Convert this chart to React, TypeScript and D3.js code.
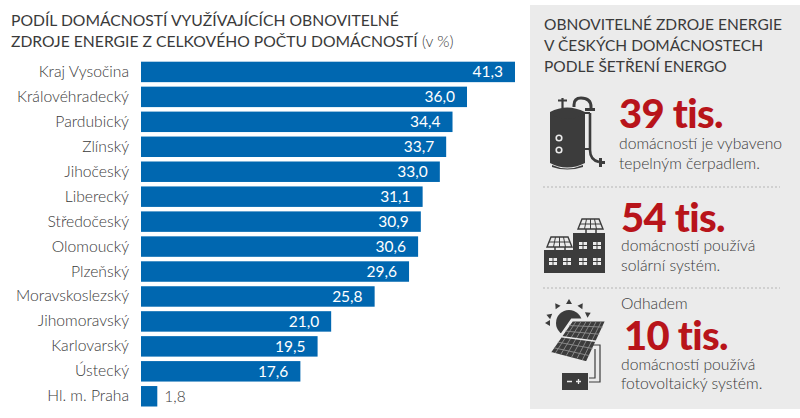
import React from "react";
import * as d3 from "d3";

const regions = ["Kraj Vysočina","Královéhradecký","Pardubický","Zlínský","Jihočeský","Liberecký","Středočeský","Olomoucký","Plzeňský","Moravskoslezský","Jihomoravský","Karlovarský","Ústecký","Hl. m. Praha"];
const shares = [41.3,36.0,34.4,33.7,33.0,31.1,30.9,30.6,29.6,25.8,21.0,19.5,17.6,1.8];
const valueLabels = ["41,3","36,0","34,4","33,7","33,0","31,1","30,9","30,6","29,6","25,8","21,0","19,5","17,6","1,8"];
const titleLines = ["PODÍL DOMÁCNOSTÍ VYUŽÍVAJÍCÍCH OBNOVITELNÉ","ZDROJE ENERGIE Z CELKOVÉHO POČTU DOMÁCNOSTÍ"];
const panelTitle = ["OBNOVITELNÉ ZDROJE ENERGIE","V ČESKÝCH DOMÁCNOSTECH","PODLE ŠETŘENÍ ENERGO"];

const FONT = "Lato, 'Open Sans', sans-serif";
const DARK = "#3a3a3a";
const BLUE = "#0067b0";
const RED = "#b8141a";
const ICON = "#3c3c3c";
const BG = "#ebebeb";

const x = d3.scaleLinear().domain([0, 41.3]).range([141, 515]);
const y = d3.scaleBand<string>().domain(regions).range([59.45, 408.75]).paddingInner(0.18).paddingOuter(0.09);

function Boiler() {
  return (
    <g>
      <path d="M550 112 Q567 103 585 112 L585 120 H550 Z" fill={ICON} />
      <path d="M550 114 Q567 124 585 114 L585 163 Q567 172 550 163 Z" fill={ICON} />
      <path d="M552 165 Q567 172 583 165 L583 167 Q567 172 552 167 Z" fill={ICON} />
      <circle cx={559} cy={138} r={2.8} fill="none" stroke={BG} strokeWidth={1.6} />
      <circle cx={559} cy={150} r={2.8} fill="none" stroke={BG} strokeWidth={1.6} />
      <path d="M574 107 V105 Q574 98 581 98 Q591 98 591 107 V110" fill="none" stroke={ICON} strokeWidth={3} />
      <rect x={585} y={108} width={10} height={3} fill={ICON} />
      <path d="M590 113 V150 Q590 160 599 162" fill="none" stroke={ICON} strokeWidth={2.6} />
      <path d="M585 113 H590 M585 149 H590" stroke={ICON} strokeWidth={2} />
      <path d="M558 100.500 H567 M562.500 98 V108" stroke={ICON} strokeWidth={2.2} />
      <rect x={599} y={158} width={3} height={9} fill={ICON} />
      <rect x={602} y={161} width={3} height={3} fill={ICON} />
    </g>
  );
}

function PanelRoof({ tx, ty }: { tx: number; ty: number }) {
  return (
    <g transform={`translate(${tx},${ty})`}>
      <path d="M4 0 H21 L25 10 H0 Z" fill="none" stroke={ICON} strokeWidth={1.4} />
      <path d="M8.500 0 L6.500 10 M12.500 0 V10 M16.500 0 L18.500 10 M2 5 H23" stroke={ICON} strokeWidth={1} />
      <path d="M8 10 V14 M18 10 V14" stroke={ICON} strokeWidth={1.5} />
    </g>
  );
}

function House() {
  const windows = [[549,258],[563,258],[579,258],[593,258],[579,242],[593,242]];
  return (
    <g>
      <rect x={544} y={250} width={30} height={23} fill={ICON} />
      <rect x={573} y={233} width={32} height={40} fill={ICON} />
      <PanelRoof tx={547} ty={237} />
      <PanelRoof tx={578} ty={219} />
      {windows.map(([a, b], i) => (
        <g key={i} fill={BG}>
          <rect x={a} y={b} width={3.500} height={3} />
          <rect x={a + 4.500} y={b} width={3.500} height={3} />
          <rect x={a} y={b + 4} width={3.500} height={3} />
          <rect x={a + 4.500} y={b + 4} width={3.500} height={3} />
        </g>
      ))}
    </g>
  );
}

function Solar() {
  const tl: [number, number] = [572, 320];
  const tr: [number, number] = [607, 320];
  const br: [number, number] = [587, 363];
  const bl: [number, number] = [549, 353];
  const pt = (u: number, v: number): [number, number] => {
    const ax = tl[0] + (tr[0] - tl[0]) * u, ay = tl[1] + (tr[1] - tl[1]) * u;
    const bx = bl[0] + (br[0] - bl[0]) * u, by = bl[1] + (br[1] - bl[1]) * u;
    return [ax + (bx - ax) * v, ay + (by - ay) * v];
  };
  const line = d3.line();
  const rayAngles = [-160, -125, -90, -55, -25, 180];
  return (
    <g>
      <circle cx={569} cy={323} r={13} fill={ICON} />
      {rayAngles.map((a, i) => {
        const t = (a * Math.PI) / 180;
        const cx = 569 + 19 * Math.cos(t), cy = 323 + 19 * Math.sin(t);
        const n = t + Math.PI / 2;
        const tri: [number, number][] = [
          [cx + 3 * Math.cos(n), cy + 3 * Math.sin(n)],
          [cx - 3 * Math.cos(n), cy - 3 * Math.sin(n)],
          [cx + 5 * Math.cos(t), cy + 5 * Math.sin(t)],
        ];
        return <path key={i} d={line(tri)! + "Z"} fill={ICON} />;
      })}
      <path d={line([tl, tr, br, bl])! + "Z"} fill={ICON} stroke={BG} strokeWidth={3} />
      {d3.range(1, 7).map((i) => (
        <path key={"u" + i} d={line([pt(i / 7, 0.04), pt(i / 7, 0.96)])!} stroke="#8f8f8f" strokeWidth={0.9} fill="none" />
      ))}
      {d3.range(1, 6).map((i) => (
        <path key={"v" + i} d={line([pt(0.03, i / 6), pt(0.97, i / 6)])!} stroke={i === 3 ? BG : "#8f8f8f"} strokeWidth={i === 3 ? 1.5 : 0.9} fill="none" />
      ))}
      <path d="M593 345 H600 V382 H589 M595 349 V378 H589" fill="none" stroke={ICON} strokeWidth={1.2} />
      <rect x={562} y={373} width={26} height={17} fill={ICON} />
      <path d="M567 381.500 H572 M576 381.500 H581 M578.500 379 V384" stroke={BG} strokeWidth={1.3} />
    </g>
  );
}

const Big = ({ x: tx, y: ty, t }: { x: number; y: number; t: string }) => (
  <text x={tx} y={ty} fontSize={40} fontWeight={900} letterSpacing={-0.7} fill={RED}>{t}</text>
);

export default function App() {
  return (
    <svg width={800} height={418} style={{ position: "absolute", left: 0, top: 0, background: "#fff" }} fontFamily={FONT}>
      <text x={11} y={25.5} fontSize={15.700} fill={DARK}>{titleLines[0]}</text>
      <text x={11} y={46.5} fontSize={15.700} fill={DARK}>
        {titleLines[1]}
        <tspan fontWeight={300}> (v %)</tspan>
      </text>

      {regions.map((r, i) => {
        const by = y(r)!;
        const bh = y.bandwidth();
        const big = shares[i] > 10;
        return (
          <g key={r}>
            <rect x={x(0)} y={by} width={x(shares[i]) - x(0)} height={bh} fill={BLUE} />
            <text x={129} y={by + bh / 2 + 5} fontSize={15.700} fontWeight={300} textAnchor="end" fill={DARK}>{r}</text>
            <text x={big ? x(shares[i]) - 12 : x(shares[i]) + 7} y={by + bh / 2 + 5.5} fontSize={15.500} fontWeight={big ? 400 : 300} textAnchor={big ? "end" : "start"} fill={big ? "#fff" : DARK}>{valueLabels[i]}</text>
          </g>
        );
      })}

      <rect x={530} y={5} width={270} height={404} fill={BG} />
      {panelTitle.map((t, i) => (
        <text key={t} x={544} y={30 + i * 21} fontSize={15.500} fill={DARK}>{t}</text>
      ))}

      <Boiler />
      <Big x={619} y={127.5} t="39 tis." />
      <text x={619} y={149} fontSize={15.700} fontWeight={300} fill={DARK}>domácností je vybaveno</text>
      <text x={619} y={169} fontSize={15.700} fontWeight={300} fill={DARK}>tepelným čerpadlem.</text>
      <line x1={543} x2={780} y1={187} y2={187} stroke="#b5b5b5" strokeDasharray="2 2" />

      <House />
      <Big x={621} y={231.5} t="54 tis." />
      <text x={621} y={251} fontSize={15.700} fontWeight={300} fill={DARK}>domácností používá</text>
      <text x={621} y={271} fontSize={15.700} fontWeight={300} fill={DARK}>solární systém.</text>
      <line x1={543} x2={780} y1={288} y2={288} stroke="#b5b5b5" strokeDasharray="2 2" />

      <Solar />
      <text x={621} y={309} fontSize={15.700} fontWeight={300} fill={DARK}>Odhadem</text>
      <Big x={624} y={350} t="10 tis." />
      <text x={621} y={370} fontSize={15.700} fontWeight={300} fill={DARK}>domácností používá</text>
      <text x={621} y={389} fontSize={15.700} fontWeight={300} fill={DARK}>fotovoltaický systém.</text>
    </svg>
  );
}
